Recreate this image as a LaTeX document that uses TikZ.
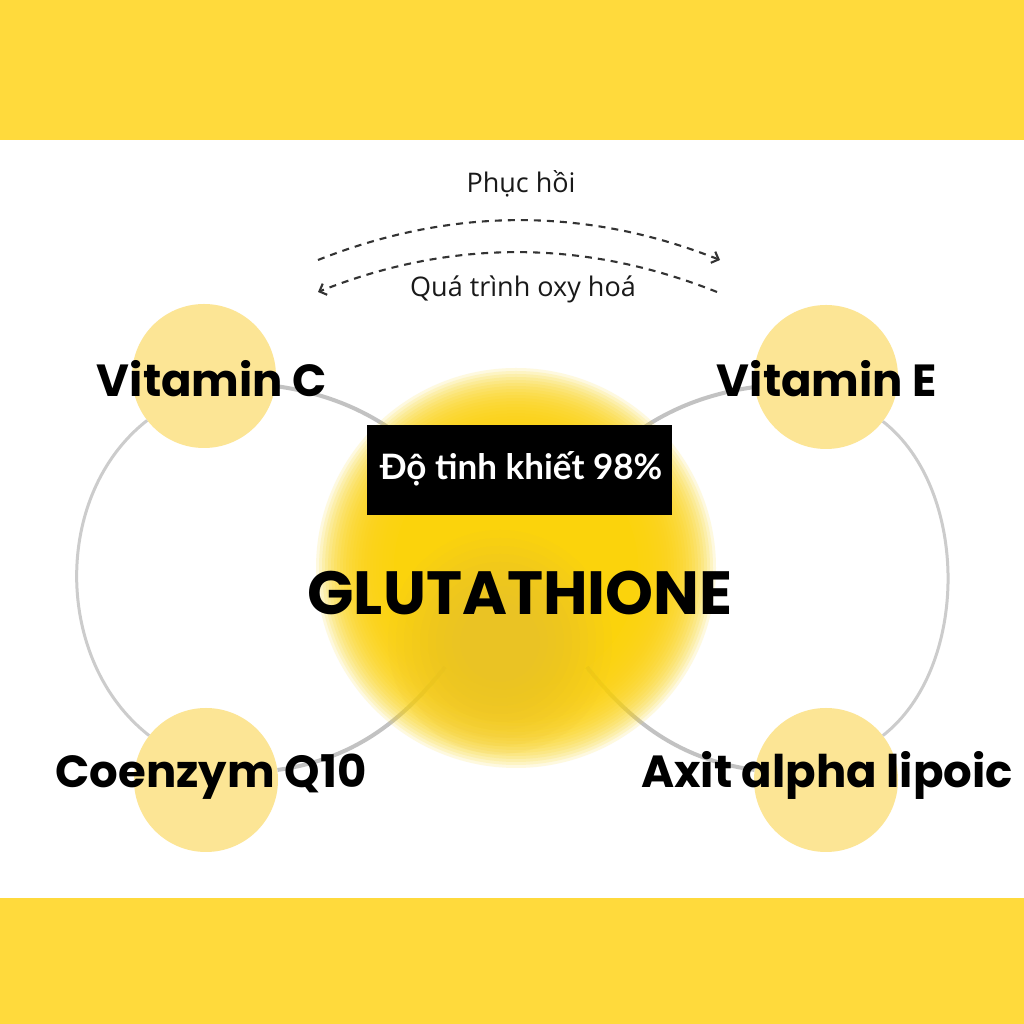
\documentclass[tikz,border=0pt]{standalone}
\usepackage{fontspec}
\usetikzlibrary{arrows.meta}
\newfontfamily\popfont{Poppins}
\newfontfamily\latofont{Lato}
\newfontfamily\opfont{Open Sans}
\definecolor{band}{HTML}{FFDA3C}
\definecolor{bubble}{HTML}{FCE595}
\definecolor{glowc}{HTML}{FBD30C}
\definecolor{goldc}{HTML}{E2BC3C}
\definecolor{lineg}{HTML}{CCCCCC}
\definecolor{spokeg}{HTML}{C2C2C2}
\definecolor{dashc}{HTML}{333333}
\begin{document}
\begin{tikzpicture}[x=1pt,y=1pt,
  bubblestyle/.style={circle, fill=bubble, minimum size=144pt, inner sep=0pt},
  lbl/.style={font=\popfont\bfseries\fontsize{45}{54}\selectfont, text=black, inner sep=0pt, anchor=base},
  arcline/.style={draw=lineg, line width=3pt},
  spoke/.style={draw=spokeg, line width=4pt},
  dashline/.style={draw=dashc, line width=2.1pt, dash pattern=on 7pt off 6pt,
    -{Straight Barb[length=6pt,width=12pt]}},
  small/.style={font=\opfont\fontsize{27}{32}\selectfont, text=black!90, inner sep=0pt, anchor=base}]
\useasboundingbox (0,0) rectangle (1024,1024);
\fill[white] (0,0) rectangle (1024,1024);
% bands
\fill[band] (0,884) rectangle (1024,1024);
\fill[band] (0,0) rectangle (1024,126);
% nodes
\coordinate (g) at (516,456);
\node[bubblestyle] (vc) at (204,648) {};
\node[bubblestyle] (ve) at (826,647) {};
\node[bubblestyle] (cq) at (206,244) {};
\node[bubblestyle] (ax) at (826,244) {};
% connectors
\draw[arcline] (vc) to[out=218, in=142, looseness=0.98] (cq);
\draw[arcline] (ve) to[out=-38, in=38, looseness=0.9] (ax);
\draw[spoke] (vc) to[out=-8, in=125] (g);
\draw[spoke] (ve) to[out=188, in=55] (g);
\draw[spoke] (cq) to[out=8, in=235] (g);
\draw[spoke] (ax) to[out=172, in=305] (g);
% glow
\fill[glowc] (g) circle (122);
\foreach \r in {125,128,...,200} \fill[glowc, opacity=0.13] (g) circle (\r);
\foreach \r in {40,48,...,115} \fill[goldc, opacity=0.08] (500,382) circle (\r);
% box
\node[fill=black, minimum width=305pt, minimum height=90pt, inner sep=0pt] (box) at (519.5,554) {};
\node[font=\latofont\bfseries\fontsize{35}{40}\selectfont, text=white, anchor=base, inner sep=0pt] (purity) at (521,544) {Độ tinh khiết 98\%};
% labels
\node[lbl] (tvc) at (212,627) {Vitamin C};
\node[lbl] (tve) at (827,627) {Vitamin E};
\node[lbl] (tcq) at (211,236) {Coenzym Q10};
\node[lbl] (tax) at (827,236) {Axit alpha lipoic};
\node[lbl, font=\popfont\bfseries\fontsize{61}{70}\selectfont] (glu) at (520,409) {GLUTATHIONE};
% dashed arcs
\coordinate (a1) at (318,764);
\coordinate (a2) at (720,764);
\coordinate (b1) at (717,732);
\coordinate (b2) at (318,732);
\draw[dashline] (a1) .. controls (452,817) and (586,817) .. (a2);
\draw[dashline] (b1) .. controls (584,785) and (451,785) .. (b2);
\node[small] (t1) at (521,831) {Phục hồi};
\node[small] (t2) at (523,727) {Quá trình oxy hoá};
\end{tikzpicture}
\end{document}
